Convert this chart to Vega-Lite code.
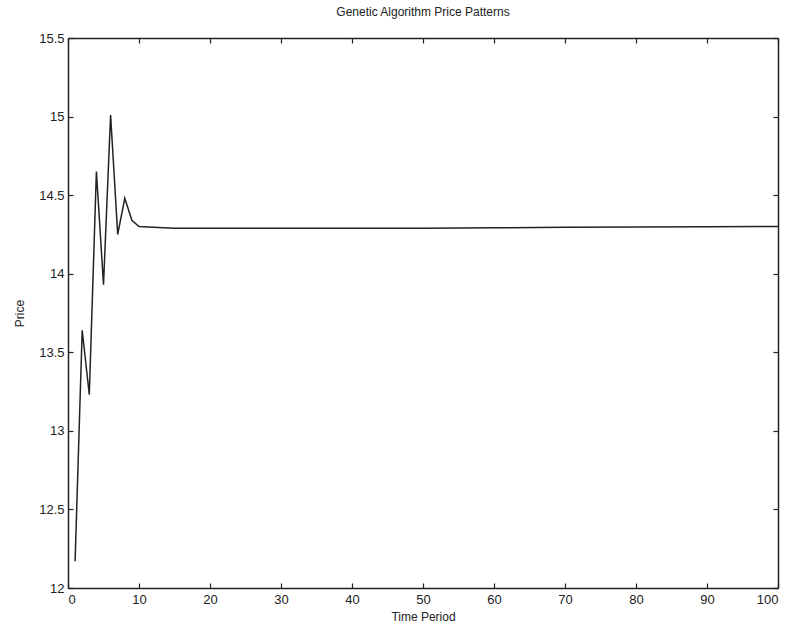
{
  "$schema": "https://vega.github.io/schema/vega-lite/v6.json",
  "autosize": {"type": "none"},
  "padding": {"left": 68, "top": 38, "right": 18, "bottom": 43},
  "width": 710,
  "height": 550,
  "background": "white",
  "title": {"text": "Genetic Algorithm Price Patterns", "font": "Liberation Sans", "fontSize": 12, "fontWeight": "normal", "color": "#222", "offset": 13},
  "config": {"view": {"stroke": null}},
  "data": {"values": [
    {"t": 1, "p": 12.17}, {"t": 2, "p": 13.64}, {"t": 3, "p": 13.23}, {"t": 4, "p": 14.65},
    {"t": 5, "p": 13.93}, {"t": 6, "p": 15.01}, {"t": 7, "p": 14.25}, {"t": 8, "p": 14.48},
    {"t": 9, "p": 14.34}, {"t": 10, "p": 14.30}, {"t": 12, "p": 14.295}, {"t": 15, "p": 14.29},
    {"t": 20, "p": 14.29}, {"t": 30, "p": 14.29}, {"t": 40, "p": 14.29}, {"t": 50, "p": 14.29},
    {"t": 60, "p": 14.292}, {"t": 70, "p": 14.295}, {"t": 80, "p": 14.297}, {"t": 90, "p": 14.299}, {"t": 100, "p": 14.30}
  ]},
  "layer": [
    {
      "mark": {"type": "line", "color": "#222", "strokeWidth": 1.5},
      "encoding": {
        "x": {"field": "t", "type": "quantitative", "scale": {"domain": [0, 100], "nice": false},
          "axis": {"orient": "bottom", "title": "Time Period", "values": [0,10,20,30,40,50,60,70,80,90,100], "format": "d", "grid": false, "tickSize": -5, "labelPadding": 10, "domainColor": "#222", "tickColor": "#222", "labelColor": "#222", "titleColor": "#222", "labelFont": "Liberation Sans", "labelFontSize": 13, "titleFont": "Liberation Sans", "titleFontSize": 12, "titleFontWeight": "normal", "titlePadding": 5, "domainWidth": 1.5, "tickWidth": 1.2}},
        "y": {"field": "p", "type": "quantitative", "scale": {"domain": [12, 15.5], "nice": false, "zero": false},
          "axis": {"orient": "left", "title": "Price", "values": [12,12.5,13,13.5,14,14.5,15,15.5], "format": "~g", "grid": false, "tickSize": -5, "labelPadding": 9, "domainColor": "#222", "tickColor": "#222", "labelColor": "#222", "titleColor": "#222", "labelFont": "Liberation Sans", "labelFontSize": 13, "titleFont": "Liberation Sans", "titleFontSize": 12, "titleFontWeight": "normal", "titlePadding": 12, "domainWidth": 1.5, "tickWidth": 1.2}}
      }
    },
    {
      "mark": {"type": "line", "opacity": 0},
      "encoding": {
        "x": {"field": "t", "type": "quantitative", "scale": {"domain": [0, 100], "nice": false},
          "axis": {"orient": "top", "title": null, "labels": false, "values": [0,10,20,30,40,50,60,70,80,90,100], "grid": false, "tickSize": -5, "domainColor": "#222", "tickColor": "#222", "domainWidth": 1.5, "tickWidth": 1.2}},
        "y": {"field": "p", "type": "quantitative", "scale": {"domain": [12, 15.5], "nice": false, "zero": false},
          "axis": {"orient": "right", "title": null, "labels": false, "values": [12,12.5,13,13.5,14,14.5,15,15.5], "grid": false, "tickSize": -5, "domainColor": "#222", "tickColor": "#222", "domainWidth": 1.5, "tickWidth": 1.2}}
      }
    }
  ],
  "resolve": {"axis": {"x": "independent", "y": "independent"}}
}
